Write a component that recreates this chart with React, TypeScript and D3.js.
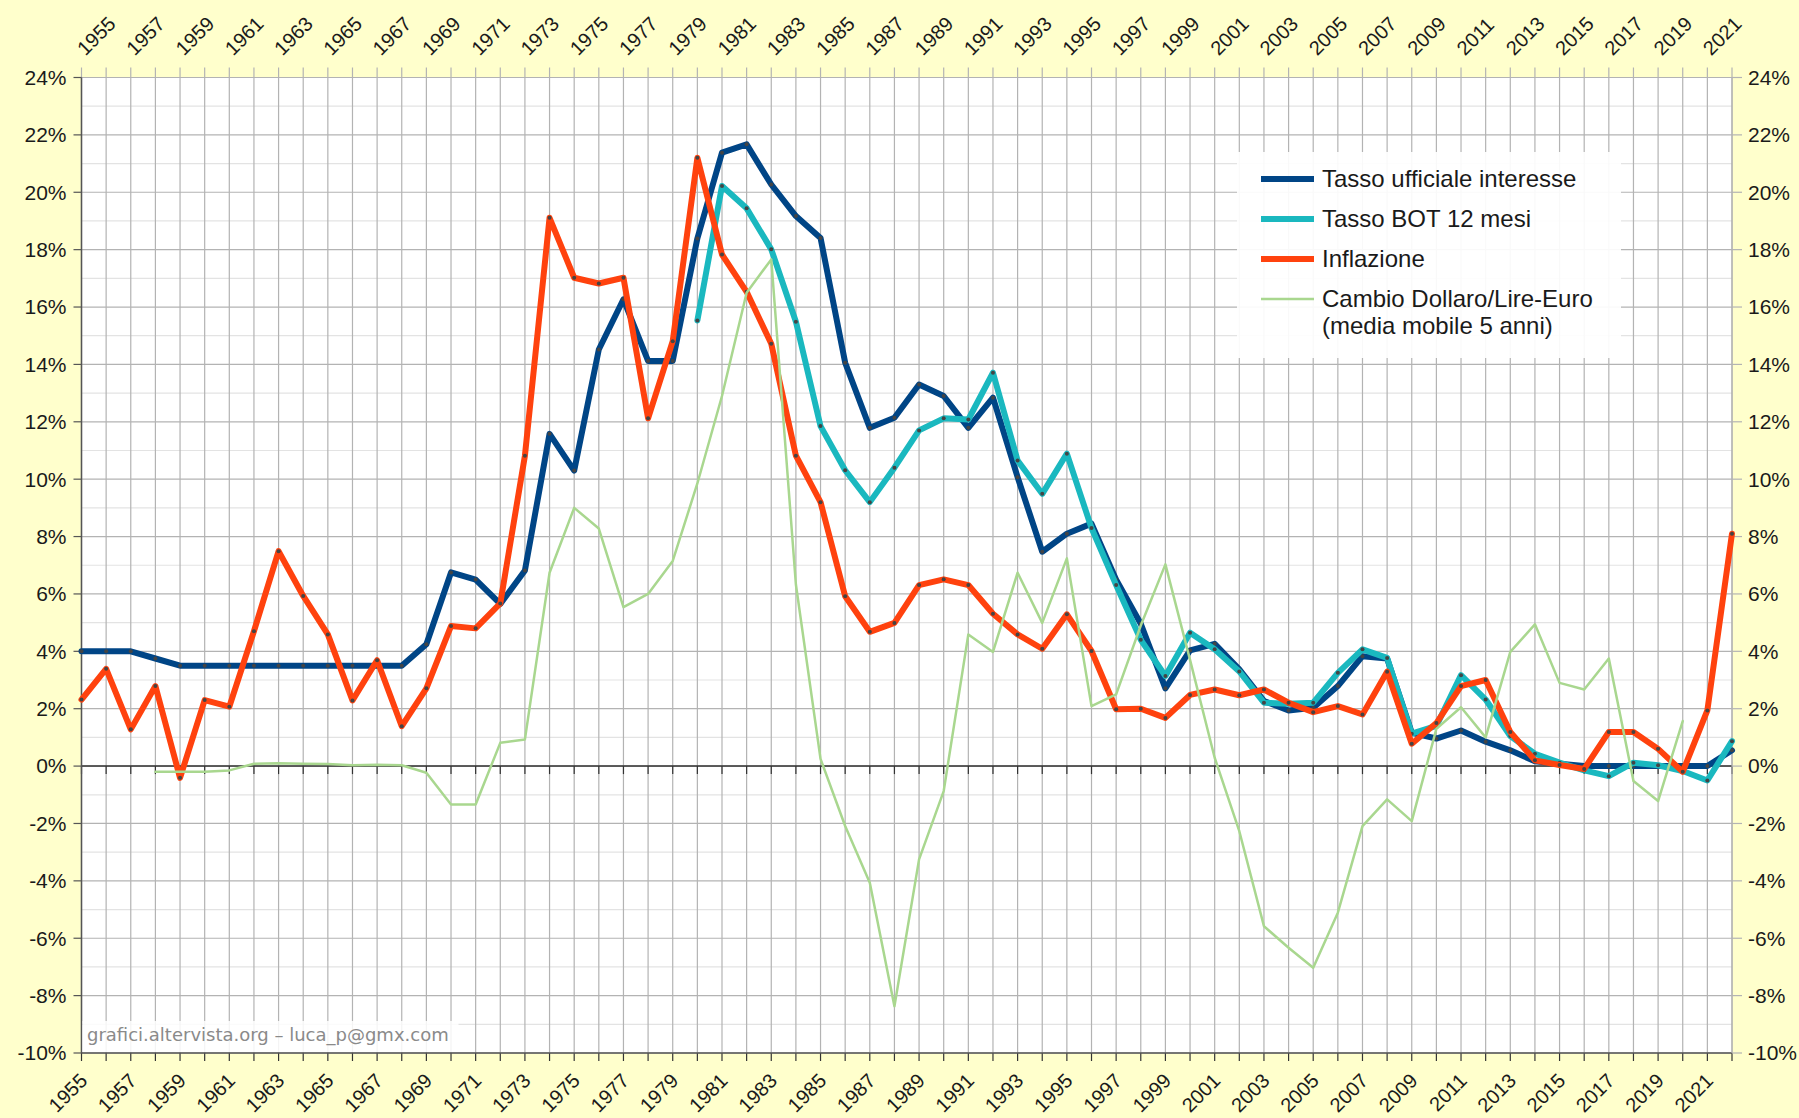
import React from "react";
import * as d3 from "d3";

const YEARS = d3.range(1955, 2023);
const X_LABEL_YEARS = d3.range(1955, 2022, 2);
const Y_TICKS = d3.range(-10, 25, 2);
const Y_GRID = d3.range(-10, 25, 1);

const TASSO_UFFICIALE = [
  4.0, 4.0, 4.0, 3.75, 3.5,
  3.5, 3.5, 3.5, 3.5, 3.5, 3.5, 3.5, 3.5, 3.5, 4.25,
  6.75, 6.5, 5.65, 6.82, 11.58, 10.3, 14.52, 16.27, 14.12, 14.12,
  18.39, 21.38, 21.67, 20.27, 19.17, 18.41, 14.06, 11.79, 12.14, 13.3,
  12.9, 11.79, 12.84, 10.07, 7.47, 8.1, 8.45, 6.5, 4.96, 2.71,
  4.03, 4.26, 3.37, 2.27, 1.94, 2.03, 2.79, 3.83, 3.75, 1.16,
  0.96, 1.24, 0.85, 0.55, 0.17, 0.08, 0, 0, 0, 0,
  0, 0, 0.55,
];

const BOT_START = 1980;
const BOT_12M = [
  15.53, 20.22, 19.44, 18.01, 15.49, 11.85, 10.31, 9.2, 10.4, 11.7,
  12.12, 12.08, 13.71, 10.65, 9.49, 10.89, 8.3, 6.31, 4.4, 3.14,
  4.65, 4.07, 3.3, 2.21, 2.17, 2.21, 3.25, 4.07, 3.77, 1.13,
  1.4, 3.17, 2.32, 1.05, 0.43, 0.12, -0.15, -0.35, 0.12, 0.03,
  -0.17, -0.5, 0.87,
];

const INFLAZIONE = [
  2.32, 3.39, 1.28, 2.79, -0.41,
  2.3, 2.07, 4.7, 7.49, 5.93, 4.59, 2.29, 3.69, 1.39, 2.71,
  4.88, 4.8, 5.67, 10.82, 19.11, 17.02, 16.82, 17.02, 12.12, 14.81,
  21.2, 17.83, 16.53, 14.72, 10.82, 9.2, 5.92, 4.68, 4.99, 6.31,
  6.51, 6.31, 5.31, 4.59, 4.09, 5.29, 4.01, 1.98, 2.0, 1.68,
  2.48, 2.67, 2.47, 2.67, 2.21, 1.88, 2.09, 1.8, 3.29, 0.78,
  1.5, 2.79, 3.0, 1.19, 0.2, 0.04, -0.1, 1.19, 1.19, 0.6,
  -0.2, 1.94, 8.1,
];

const CAMBIO_START = 1958;
const CAMBIO = [
  -0.2, -0.2,
  -0.2, -0.15, 0.08, 0.1, 0.08, 0.07, 0.03, 0.05, 0.03, -0.23,
  -1.34, -1.34, 0.81, 0.93, 6.74, 9.0, 8.28, 5.54, 6.0, 7.15,
  9.85, 12.9, 16.5, 17.66, 6.33, 0.25, -2.09, -4.07, -8.37, -3.25,
  -0.87, 4.59, 3.98, 6.74, 4.99, 7.24, 2.09, 2.5, 4.9, 7.03,
  3.7, 0.29, -2.27, -5.58, -6.33, -7.03, -5.11, -2.09, -1.16, -1.92,
  1.3, 2.05, 1.0, 3.98, 4.94, 2.9, 2.67, 3.75, -0.52, -1.22,
  1.57,
];

const LEGEND_LABELS = [
  ["Tasso ufficiale interesse"],
  ["Tasso BOT 12 mesi"],
  ["Inflazione"],
  ["Cambio Dollaro/Lire-Euro", "(media mobile 5 anni)"],
];

const WATERMARK = "grafici.altervista.org – luca_p@gmx.com";

const W = 1799;
const H = 1118;
const L = 81.5;
const R = 1732;
const T = 77.5;
const B = 1053;

const C_BLUE = "#004586";
const C_CYAN = "#1ab8bf";
const C_RED = "#ff420e";
const C_GREEN = "#a9d78f";

type Pt = { year: number; v: number };

const toPts = (start: number, vals: number[]): Pt[] =>
  vals.map((v, i) => ({ year: start + i, v }));

export default function App() {
  const x = d3.scaleLinear().domain([1955, 2022]).range([L, R]);
  const y = d3.scaleLinear().domain([-10, 24]).range([B, T]);
  const line = d3
    .line<Pt>()
    .x((d) => x(d.year))
    .y((d) => y(d.v));

  const series = [
    { pts: toPts(YEARS[0], TASSO_UFFICIALE), color: C_BLUE, w: 6, markers: true },
    { pts: toPts(BOT_START, BOT_12M), color: C_CYAN, w: 6, markers: true },
    { pts: toPts(YEARS[0], INFLAZIONE), color: C_RED, w: 6, markers: true },
    { pts: toPts(CAMBIO_START, CAMBIO), color: C_GREEN, w: 2.5, markers: false },
  ];

  const font = "'Liberation Sans', Arial, sans-serif";
  const y0 = y(0);

  return (
    <svg
      width={W}
      height={H}
      style={{ position: "absolute", left: 0, top: 0 }}
      fontFamily={font}
    >
      <rect x={0} y={0} width={W} height={H} fill="#ffffcc" />
      <rect x={L} y={T} width={R - L} height={B - T} fill="#ffffff" />

      {/* horizontal grid */}
      {Y_GRID.map((v) => (
        <line
          key={"hg" + v}
          x1={L}
          x2={R}
          y1={y(v)}
          y2={y(v)}
          stroke={v % 2 === 0 ? "#b3b3b3" : "#e3e3e3"}
          strokeWidth={1.2}
        />
      ))}
      {/* vertical grid */}
      {YEARS.map((yr) => (
        <line
          key={"vg" + yr}
          x1={x(yr)}
          x2={x(yr)}
          y1={T}
          y2={B}
          stroke="#b3b3b3"
          strokeWidth={1.2}
        />
      ))}
      {/* top ticks */}
      {YEARS.map((yr) => (
        <line
          key={"tt" + yr}
          x1={x(yr)}
          x2={x(yr)}
          y1={T - 10}
          y2={T}
          stroke="#b3b3b3"
          strokeWidth={1.2}
        />
      ))}
      {/* bottom ticks */}
      {YEARS.map((yr) => (
        <line
          key={"bt" + yr}
          x1={x(yr)}
          x2={x(yr)}
          y1={B}
          y2={B + 8}
          stroke="#333"
          strokeWidth={1.2}
        />
      ))}
      {/* zero axis */}
      <line x1={L} x2={R} y1={y0} y2={y0} stroke="#333" strokeWidth={1.5} />
      {YEARS.map((yr) => (
        <line
          key={"zt" + yr}
          x1={x(yr)}
          x2={x(yr)}
          y1={y0}
          y2={y0 + 8}
          stroke="#333"
          strokeWidth={1.2}
        />
      ))}
      {/* axes lines */}
      <line x1={L} x2={L} y1={T} y2={B} stroke="#555" strokeWidth={1.5} />
      <line x1={L} x2={R} y1={B} y2={B} stroke="#555" strokeWidth={1.5} />
      <line x1={R} x2={R} y1={T} y2={B} stroke="#b3b3b3" strokeWidth={1.2} />
      {Y_TICKS.map((v) => (
        <g key={"yt" + v}>
          <line x1={L - 8} x2={L} y1={y(v)} y2={y(v)} stroke="#555" strokeWidth={1.2} />
          <line x1={R} x2={R + 10} y1={y(v)} y2={y(v)} stroke="#b3b3b3" strokeWidth={1.2} />
          <text
            x={L - 15}
            y={y(v)}
            dy="0.35em"
            textAnchor="end"
            fontSize={21}
            fill="#1a1a1a"
          >
            {v}%
          </text>
          <text
            x={R + 16}
            y={y(v)}
            dy="0.35em"
            textAnchor="start"
            fontSize={21}
            fill="#1a1a1a"
          >
            {v}%
          </text>
        </g>
      ))}

      {/* x labels top */}
      {X_LABEL_YEARS.map((yr) => (
        <text
          key={"xlt" + yr}
          transform={`translate(${x(yr) + 4},${T - 21}) rotate(-45)`}
          textAnchor="start"
          fontSize={20}
          fill="#1a1a1a"
        >
          {yr}
        </text>
      ))}
      {/* x labels bottom */}
      {X_LABEL_YEARS.map((yr) => (
        <text
          key={"xlb" + yr}
          transform={`translate(${x(yr) + 7},${B + 29}) rotate(-45)`}
          textAnchor="end"
          fontSize={20}
          fill="#1a1a1a"
        >
          {yr}
        </text>
      ))}

      {/* watermark */}
      <rect x={L + 1} y={1021} width={376} height={31} fill="#ffffff" opacity={0.85} />
      <text
        x={87}
        y={1041}
        fontSize={18}
        fill="#8a8a8a"
        fontFamily="'DejaVu Sans', sans-serif"
      >
        {WATERMARK}
      </text>

      {/* series */}
      {series.map((s, i) => (
        <g key={"s" + i}>
          <path
            d={line(s.pts) || ""}
            fill="none"
            stroke={s.color}
            strokeWidth={s.w}
            strokeLinejoin="round"
            strokeLinecap="round"
          />
          {s.markers &&
            s.pts.map((p) => (
              <circle
                key={"m" + i + "-" + p.year}
                cx={x(p.year)}
                cy={y(p.v)}
                r={2}
                fill="#444"
              />
            ))}
        </g>
      ))}

      {/* legend */}
      <rect x={1237} y={152} width={384} height={206} fill="#ffffff" opacity={0.92} />
      {series.map((s, i) => {
        const ry = 179 + i * 40;
        return (
          <g key={"lg" + i}>
            <line
              x1={1261}
              x2={1314}
              y1={ry}
              y2={ry}
              stroke={s.color}
              strokeWidth={s.w}
            />
            {LEGEND_LABELS[i].map((t, j) => (
              <text
                key={"lt" + j}
                x={1322}
                y={ry + 8 + j * 27}
                fontSize={24}
                fill="#1a1a1a"
              >
                {t}
              </text>
            ))}
          </g>
        );
      })}
    </svg>
  );
}
